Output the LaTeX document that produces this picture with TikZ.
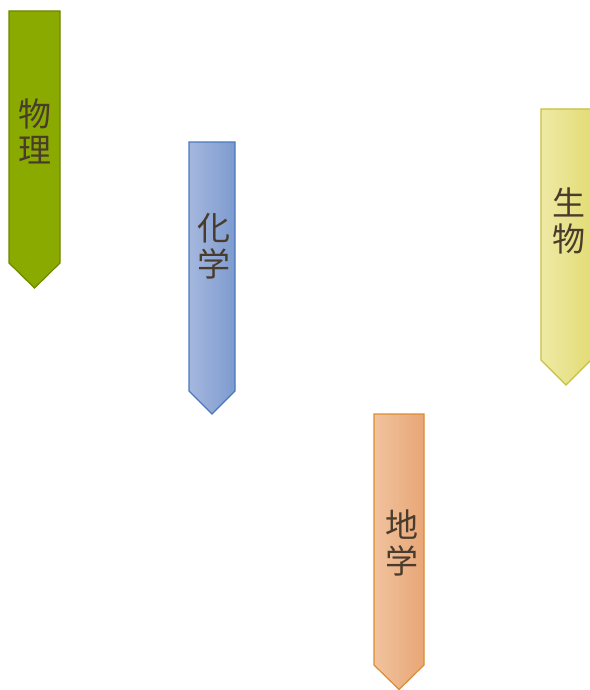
\documentclass[tikz,border=0pt]{standalone}
\usepackage{fontspec}
\newfontfamily\cjk{Noto Sans CJK JP}
\definecolor{txt}{RGB}{74,60,45}
\definecolor{gfill}{RGB}{138,170,0}
\definecolor{gline}{RGB}{108,136,0}
\definecolor{bL}{RGB}{165,183,222}
\definecolor{bR}{RGB}{125,155,207}
\definecolor{bline}{RGB}{75,120,190}
\definecolor{yL}{RGB}{238,234,165}
\definecolor{yR}{RGB}{227,220,118}
\definecolor{yline}{RGB}{200,192,60}
\definecolor{oL}{RGB}{241,195,158}
\definecolor{oR}{RGB}{232,166,118}
\definecolor{oline}{RGB}{222,140,50}
\tikzset{
  lbl/.style={text=txt, font=\cjk\fontsize{33}{36}\selectfont, align=center, inner sep=0pt},
  banner/.style={line width=1.2pt, line join=miter}
}
\begin{document}
\begin{tikzpicture}[x=1pt,y=-1pt]
\useasboundingbox (0,0) rectangle (589,690);
\fill[white] (0,0) rectangle (589,690);
% physics
\draw[banner, fill=gfill, draw=gline] (9,11) -- (60,11) -- (60,263) -- (34.5,288) -- (9,263) -- cycle;
\node[lbl] (butsuri) at (35,131) {物\\理};
% chemistry
\draw[banner, left color=bL, right color=bR, draw=bline] (189,142) -- (235,142) -- (235,391) -- (212,414) -- (189,391) -- cycle;
\node[lbl] (kagaku) at (214,246) {化\\学};
% biology
\draw[banner, left color=yL, right color=yR, draw=yline] (541,109) -- (591,109) -- (591,360) -- (566,385) -- (541,360) -- cycle;
\node[lbl] (seibutsu) at (569,221) {生\\物};
% earth science
\draw[banner, left color=oL, right color=oR, draw=oline] (374,414) -- (424,414) -- (424,665) -- (399,689.5) -- (374,665) -- cycle;
\node[lbl] (chigaku) at (402,543) {地\\学};
\end{tikzpicture}
\end{document}
